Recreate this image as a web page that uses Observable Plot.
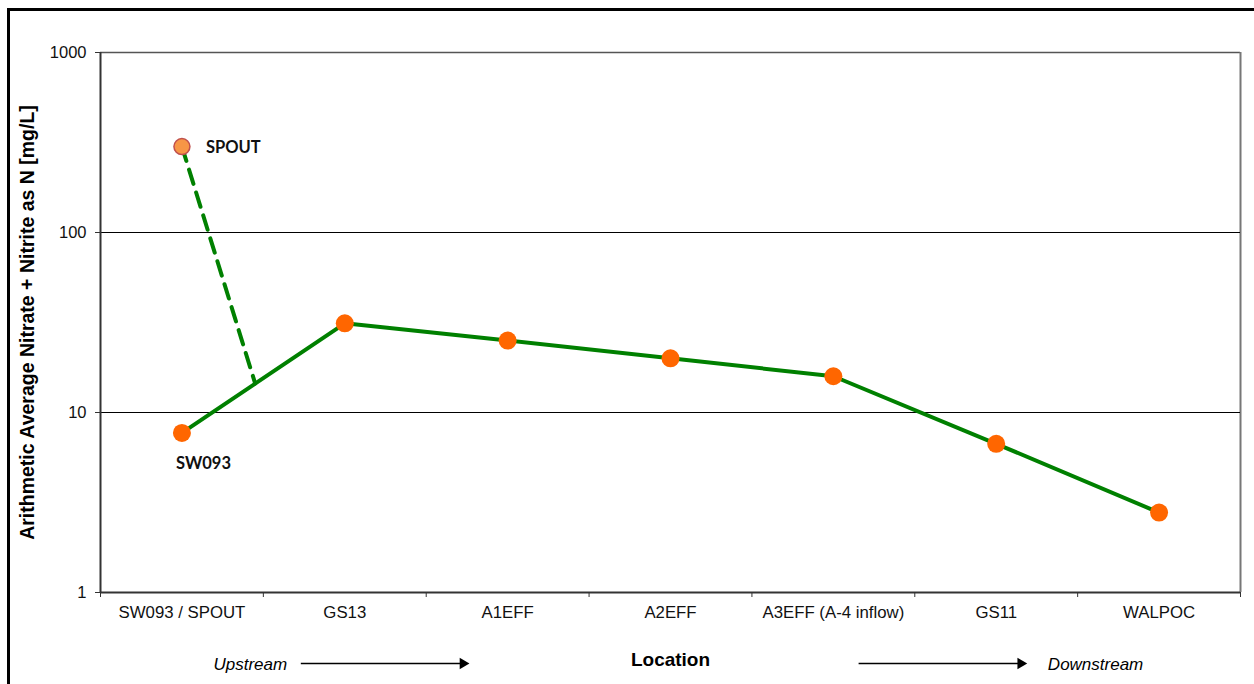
<!DOCTYPE html>
<html>
<head>
<meta charset="utf-8">
<script src="https://cdn.jsdelivr.net/npm/d3@7"></script>
<script src="https://cdn.jsdelivr.net/npm/@observablehq/plot@0.6"></script>
<style>
  html, body { margin: 0; padding: 0; background: #fff; }
  #wrap { position: relative; width: 1254px; height: 684px; overflow: hidden; }
  #border { position: absolute; left: 7px; top: 8px; width: 1300px; height: 700px;
            border-left: 3px solid #000; border-top: 3px solid #000; pointer-events: none; }
  svg { display: block; }
</style>
</head>
<body>
<div id="wrap"><div id="border"></div></div>
<script>
// ---- data ----
const locations = ["SW093 / SPOUT", "GS13", "A1EFF", "A2EFF", "A3EFF (A-4 inflow)", "GS11", "WALPOC"];
const nitrate = [7.7, 31.3, 25.1, 20.0, 15.9, 6.7, 2.78];
const spoutValue = 300;            // SPOUT at first location
const junctionPos = 0.45;          // where the SPOUT dashed line joins the main line (index units)
const yTicks = [1, 10, 100, 1000];
const gridValues = [10, 100];
const pointLabels = ["SPOUT", "SW093"];
const flowLabels = ["Upstream", "Downstream"];
const flowTextPos = [0.42, 5.61];
const flowArrowFrom = [0.73, 4.155];
const flowArrowTo = [1.75, 5.175];

// ---- derived tables ----
const mainData = locations.map((name, i) => ({ i, name, v: nitrate[i] }));
const junctionValue = Math.pow(10,
  Math.log10(nitrate[0]) + junctionPos * (Math.log10(nitrate[1]) - Math.log10(nitrate[0])));
const dashData = [{ i: 0, v: spoutValue }, { i: junctionPos, v: junctionValue }];
const flowData = flowLabels.map((t, k) => ({ t, x: flowTextPos[k], x1: flowArrowFrom[k], x2: flowArrowTo[k] }));
const boundaries = d3.range(-0.5, locations.length, 1);
const labelFont = "Lato, Open Sans, sans-serif";

const chart = Plot.plot({
  width: 1254,
  height: 684,
  marginLeft: 100,
  marginRight: 14,
  marginTop: 52,
  marginBottom: 92,
  style: { fontFamily: "Liberation Sans, Arial, sans-serif", background: "transparent", overflow: "visible" },
  x: { type: "linear", domain: [-0.5, locations.length - 0.5], axis: null },
  y: { type: "log", domain: [1, 1000], axis: null },
  marks: [
    // frame: top and right (gray)
    Plot.ruleY([1000], { stroke: "#555", strokeWidth: 1.5 }),
    Plot.ruleX([locations.length - 0.5], { stroke: "#777", strokeWidth: 2 }),
    // gridlines
    Plot.ruleY(gridValues, { stroke: "#000", strokeWidth: 1 }),
    // axes lines
    Plot.ruleY([1], { stroke: "#333", strokeWidth: 2 }),
    Plot.ruleX([-0.5], { stroke: "#333", strokeWidth: 2 }),
    // y axis ticks and labels
    Plot.axisY({ ticks: yTicks, tickFormat: d => String(d), tickSize: 5, tickPadding: 9,
      fontSize: 16.5, stroke: "#333", color: "#111", label: null }),
    // x boundary ticks
    Plot.axisX({ ticks: boundaries, tickFormat: () => "", tickSize: 5, stroke: "#333", label: null }),
    // x category labels
    Plot.axisX({ ticks: d3.range(locations.length), tickFormat: i => locations[i], tickSize: 0,
      tickPadding: 14, fontSize: 16.8, color: "#111", label: null }),
    // y title
    Plot.text(["Arithmetic Average Nitrate + Nitrite as N [mg/L]"], {
      frameAnchor: "left", dx: -73, rotate: -90, text: d => d, fontSize: 19.5, fontWeight: "bold",
      textAnchor: "middle", fill: "#000"
    }),
    // x title
    Plot.text(["Location"], {
      frameAnchor: "bottom", dy: 73, text: d => d, fontSize: 19, fontWeight: "bold", fill: "#000"
    }),
    // flow annotations
    Plot.text(flowData, { x: "x", y: () => 1, dy: 72, text: "t", fontSize: 17, fontStyle: "italic", fill: "#000" }),
    Plot.link(flowData, { x1: "x1", x2: "x2", y1: () => 1, y2: () => 1, dy: 71, stroke: "#000", strokeWidth: 1.3 }),
    Plot.dot(flowData, { x: "x2", y: () => 1, dy: 71, dx: -4, symbol: "triangle", rotate: 90, r: 4.2, fill: "#000", stroke: null }),
    // dashed SPOUT connector
    Plot.line(dashData, { x: "i", y: "v", stroke: "#008000", strokeWidth: 4, strokeDasharray: "15,9" }),
    // main line
    Plot.line(mainData, { x: "i", y: "v", stroke: "#008000", strokeWidth: 4 }),
    // points
    Plot.dot(mainData, { x: "i", y: "v", r: 9, fill: "#FF6600", stroke: null }),
    Plot.dot([dashData[0]], { x: "i", y: "v", r: 8, fill: "#F79646", stroke: "#C0504D", strokeWidth: 1.5 }),
    // point labels
    Plot.text([{ i: 0, v: spoutValue, t: pointLabels[0] }], { x: "i", y: "v", text: "t", textAnchor: "start",
      dx: 24, dy: 1, fontSize: 16.5, fontWeight: "bold", fontFamily: labelFont, fill: "#111" }),
    Plot.text([{ i: 0, v: nitrate[0], t: pointLabels[1] }], { x: "i", y: "v", text: "t", textAnchor: "start",
      dx: -6, dy: 31, fontSize: 16.5, fontWeight: "bold", fontFamily: labelFont, fill: "#111" })
  ]
});
document.getElementById("wrap").prepend(chart);
</script>
</body>
</html>
